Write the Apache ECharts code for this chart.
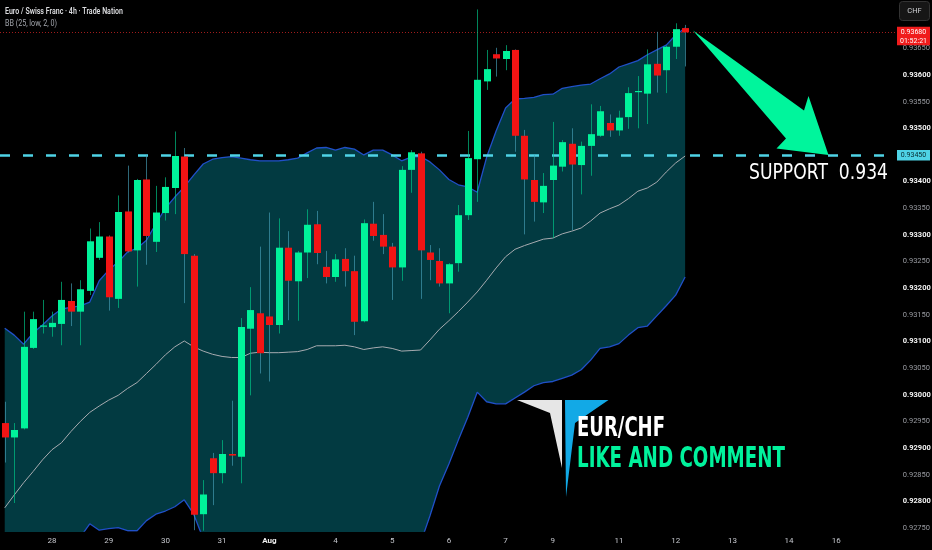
<!DOCTYPE html>
<html>
<head>
<meta charset="utf-8">
<script src="https://cdn.jsdelivr.net/npm/echarts@6/dist/echarts.min.js"></script>
<style>
html,body{margin:0;padding:0;background:#000;}
#c{width:932px;height:550px;}
</style>
</head>
<body>
<div id="c"></div>
<script>
// ---------- DATA ----------
const slotCount = 95; // 4h slots on the time axis (incl. future blank space)
const tickIndex = [5, 11, 17, 23, 28, 35, 41, 47, 53, 58, 65, 71, 77, 83, 88];
const tickText  = ['28','29','30','31','Aug','4','5','6','7','9','11','12','13','14','16'];
const yTickValues = [0.9365,0.9360,0.9355,0.9350,0.9340,0.9335,0.9330,0.9325,0.9320,0.9315,
                     0.9310,0.9305,0.9300,0.9295,0.9290,0.9285,0.9280,0.9275];

const opens = [0.92947,0.92920,0.92937,0.93088,0.93128,0.93127,0.93133,0.93176,0.93156,0.93195,
0.93257,0.93297,0.93180,0.93344,0.93271,0.93404,0.93287,0.93341,0.93388,0.93447,
0.93261,0.92776,0.92881,0.92853,0.92889,0.92884,0.93124,0.93153,0.93147,0.93131,
0.93276,0.93213,0.93267,0.93320,0.93240,0.93221,0.93255,0.93232,0.93138,0.93321,
0.93300,0.93278,0.93239,0.93422,0.93453,0.93267,0.93251,0.93209,0.93247,0.93337,
0.93442,0.93588,0.93639,0.93630,0.93647,0.93486,0.93403,0.93361,0.93403,0.93428,
0.93471,0.93431,0.93467,0.93486,0.93510,0.93496,0.93521,0.93568,0.93565,0.93621,
0.93609,0.93653,0.93688];
const closes = [0.92920,0.92934,0.93090,0.93142,0.93130,0.93135,0.93178,0.93156,0.93198,0.93288,
0.93297,0.93183,0.93343,0.93269,0.93403,0.93298,0.93342,0.93390,0.93448,0.93264,
0.92775,0.92813,0.92853,0.92889,0.92886,0.93127,0.93159,0.93078,0.93131,0.93276,
0.93214,0.93267,0.93319,0.93266,0.93221,0.93254,0.93232,0.93137,0.93322,0.93298,
0.93278,0.93239,0.93422,0.93455,0.93271,0.93253,0.93209,0.93245,0.93337,0.93444,
0.93591,0.93611,0.93631,0.93645,0.93486,0.93404,0.93362,0.93392,0.93430,0.93474,
0.93432,0.93467,0.93489,0.93532,0.93496,0.93520,0.93566,0.93570,0.93620,0.93599,
0.93653,0.93686,0.93680];
const lows = [0.92873,0.92797,0.92935,0.93086,0.93115,0.93109,0.93093,0.93129,0.93093,0.93187,
0.93253,0.93158,0.93163,0.93267,0.93203,0.93244,0.93268,0.93327,0.93339,0.93172,
0.92746,0.92745,0.92793,0.92834,0.92867,0.92834,0.92999,0.93040,0.93025,0.93115,
0.93140,0.93139,0.93219,0.93245,0.93209,0.93212,0.93203,0.93112,0.93136,0.93289,
0.93264,0.93178,0.93214,0.93379,0.93180,0.93215,0.93203,0.93153,0.93231,0.93328,
0.93362,0.93572,0.93597,0.93609,0.93456,0.93301,0.93325,0.93341,0.93294,0.93419,
0.93309,0.93376,0.93411,0.93484,0.93484,0.93486,0.93499,0.93500,0.93508,0.93567,
0.93566,0.93630,0.93616];
const highs = [0.92987,0.92947,0.93156,0.93156,0.93178,0.93156,0.93212,0.93209,0.93215,0.93312,
0.93324,0.93299,0.93374,0.93430,0.93405,0.93450,0.93392,0.93408,0.93494,0.93463,
0.93264,0.92840,0.92891,0.92915,0.92989,0.93144,0.93202,0.93278,0.93342,0.93331,
0.93307,0.93270,0.93348,0.93345,0.93270,0.93264,0.93275,0.93261,0.93329,0.93362,
0.93339,0.93285,0.93429,0.93459,0.93456,0.93281,0.93275,0.93247,0.93356,0.93495,
0.93723,0.93647,0.93651,0.93656,0.93648,0.93497,0.93450,0.93416,0.93512,0.93478,
0.93500,0.93475,0.93545,0.93542,0.93526,0.93533,0.93577,0.93598,0.93648,0.93681,
0.93655,0.93697,0.93694];

const bbUpper = [0.93125,0.93112,0.93095,0.93116,0.93131,0.93148,0.93161,0.93164,0.93167,0.93174,
0.93214,0.93234,0.93249,0.93268,0.93275,0.93290,0.93321,0.93350,0.93371,0.93390,
0.93412,0.93433,0.93442,0.93445,0.93447,0.93444,0.93441,0.93439,0.93439,0.93439,
0.93441,0.93444,0.93454,0.93463,0.93464,0.93459,0.93464,0.93461,0.93450,0.93459,
0.93459,0.93450,0.93439,0.93446,0.93447,0.93437,0.93422,0.93404,0.93394,0.93390,
0.93380,0.93446,0.93495,0.93538,0.93555,0.93556,0.93558,0.93563,0.93564,0.93575,
0.93578,0.93581,0.93583,0.93593,0.93602,0.93615,0.93621,0.93627,0.93638,0.93647,
0.93656,0.93675,0.93688];
const bbMiddle = [0.92788,0.92812,0.92835,0.92856,0.92878,0.92897,0.92910,0.92931,0.92950,0.92967,
0.92979,0.92990,0.92999,0.93012,0.93023,0.93040,0.93057,0.93075,0.93090,0.93101,
0.93090,0.93082,0.93076,0.93072,0.93070,0.93070,0.93078,0.93080,0.93079,0.93079,
0.93080,0.93081,0.93085,0.93092,0.93092,0.93092,0.93093,0.93090,0.93085,0.93088,
0.93090,0.93087,0.93082,0.93083,0.93084,0.93103,0.93123,0.93139,0.93156,0.93174,
0.93193,0.93215,0.93238,0.93259,0.93273,0.93280,0.93286,0.93292,0.93294,0.93302,
0.93307,0.93313,0.93326,0.93341,0.93349,0.93356,0.93368,0.93382,0.93388,0.93399,
0.93418,0.93435,0.93448];
const bbLower = [0.92450,0.92512,0.92574,0.92596,0.92625,0.92645,0.92658,0.92698,0.92733,0.92758,
0.92746,0.92749,0.92751,0.92745,0.92745,0.92764,0.92776,0.92782,0.92790,0.92803,
0.92776,0.92730,0.92707,0.92698,0.92694,0.92696,0.92715,0.92720,0.92720,0.92718,
0.92718,0.92718,0.92716,0.92720,0.92719,0.92726,0.92722,0.92720,0.92720,0.92718,
0.92722,0.92724,0.92726,0.92720,0.92722,0.92773,0.92829,0.92870,0.92915,0.92958,
0.93005,0.92987,0.92983,0.92983,0.92994,0.93005,0.93017,0.93023,0.93025,0.93031,
0.93037,0.93047,0.93065,0.93087,0.93090,0.93096,0.93112,0.93126,0.93129,0.93148,
0.93167,0.93187,0.93221];

const supportLevel = 0.9345;
const lastPrice = 0.9368;
const countdown = '01:52:21';
const titleText = 'Euro / Swiss Franc · 4h · Trade Nation';
const indicatorText = 'BB (25, low, 2, 0)';
const currencyText = 'CHF';
const supportText = 'SUPPORT  0.934';
const brandText = 'EUR/CHF';
const callText = 'LIKE AND COMMENT';

// ---------- STYLE ----------
const GREEN = '#00f29a', RED = '#f21414';
const WICK_UP = 'rgba(0,205,140,0.65)', WICK_DN = 'rgba(70,160,185,0.65)';
const BAND_FILL = '#023a41', BAND_LINE = '#2050c8', MID_LINE = '#a7abb0';
const AXIS_FONT = "Roboto, sans-serif";

const chart = echarts.init(document.getElementById('c'), null, {renderer: 'canvas'});
const slots = Array.from({length: slotCount}, (_, i) => String(i));
const candles = opens.map((o, i) => [i, o, closes[i], lows[i], highs[i]]);
const bandDiff = bbUpper.map((u, i) => u - bbLower[i]);

const measureCtx = document.createElement('canvas').getContext('2d');
function fitScale(text, font, targetW) {
  measureCtx.font = font;
  return targetW / measureCtx.measureText(text).width;
}

const option = {
  backgroundColor: '#000000',
  animation: false,
  grid: {left: 0, top: 0, width: slotCount * 9.45, height: 531, containLabel: false, outerBoundsMode: 'none'},
  xAxis: {
    type: 'category', data: slots, boundaryGap: true,
    axisLine: {show: false}, axisTick: {show: false}, splitLine: {show: false},
    axisLabel: {
      interval: (idx) => tickIndex.indexOf(idx) >= 0,
      margin: 6,
      formatter: (v) => {
        const k = tickIndex.indexOf(Number(v));
        if (k < 0) return '';
        const t = tickText[k];
        return /^[A-Za-z]/.test(t) ? '{m|' + t + '}' : '{d|' + t + '}';
      },
      rich: {
        d: {color: '#c4c6cc', fontSize: 8, fontFamily: AXIS_FONT},
        m: {color: '#f0f0f0', fontSize: 8, fontWeight: 'bold', fontFamily: AXIS_FONT}
      }
    }
  },
  yAxis: {
    type: 'value', position: 'right', min: 0.927445, max: 0.937407, scale: true,
    axisLine: {show: false}, axisTick: {show: false}, splitLine: {show: false},
    axisLabel: {
      customValues: yTickValues,
      margin: 5,
      align: 'left',
      formatter: (v) => {
        const s = v.toFixed(5);
        return (Math.round(v * 100000) % 100 === 0) ? '{a|' + s + '}' : '{b|' + s + '}';
      },
      rich: {
        a: {color: '#f2f2f2', fontSize: 7.5, fontWeight: 'bold', fontFamily: AXIS_FONT},
        b: {color: '#9a9ca2', fontSize: 7.5, fontFamily: AXIS_FONT}
      }
    }
  },
  series: [
    {type: 'line', name: 'bbBase', data: bbLower, stack: 'bb', symbol: 'none',
     lineStyle: {opacity: 0}, silent: true, z: 1},
    {type: 'line', name: 'bbFill', data: bandDiff, stack: 'bb', symbol: 'none',
     lineStyle: {opacity: 0}, areaStyle: {color: BAND_FILL, opacity: 1}, silent: true, z: 1},
    {type: 'line', name: 'upper', data: bbUpper, symbol: 'none',
     lineStyle: {color: BAND_LINE, width: 1.3}, silent: true, z: 2},
    {type: 'line', name: 'lower', data: bbLower, symbol: 'none',
     lineStyle: {color: BAND_LINE, width: 1.3}, silent: true, z: 2},
    {type: 'line', name: 'basis', data: bbMiddle, symbol: 'none',
     lineStyle: {color: MID_LINE, width: 1}, silent: true, z: 2},
    {
      type: 'custom', name: 'EURCHF', data: candles, clip: true, z: 5,
      encode: {x: 0, y: [1, 2, 3, 4]},
      renderItem: (params, api) => {
        const i = api.value(0), o = api.value(1), c = api.value(2), l = api.value(3), h = api.value(4);
        const pO = api.coord([i, o]), pC = api.coord([i, c]);
        const pL = api.coord([i, l]), pH = api.coord([i, h]);
        const up = c >= o;
        const cx = Math.round(pO[0]);
        const top = Math.min(pO[1], pC[1]), bot = Math.max(pO[1], pC[1]);
        return {type: 'group', children: [
          {type: 'line', shape: {x1: cx + 0.5, y1: pH[1], x2: cx + 0.5, y2: pL[1]},
           style: {stroke: up ? WICK_UP : WICK_DN, lineWidth: 1}},
          {type: 'rect', shape: {x: cx - 3, y: top, width: 7, height: Math.max(bot - top, 1.2)},
           style: {fill: up ? GREEN : RED}}
        ]};
      }
    },
    {
      type: 'line', name: 'levels', data: [], symbol: 'none', z: 8,
      markLine: {
        silent: true, symbol: 'none', animation: false, precision: 6,
        label: {show: false},
        data: [
          {yAxis: supportLevel, lineStyle: {color: '#4fd3e6', width: 2.6, type: [10, 13]}},
          {yAxis: lastPrice, lineStyle: {color: '#a01c1c', width: 1, type: [1, 2]}}
        ]
      }
    }
  ]
};
chart.setOption(option);

// ---------- ANNOTATIONS ----------
const ySup = chart.convertToPixel({yAxisIndex: 0}, supportLevel);
const yLast = chart.convertToPixel({yAxisIndex: 0}, lastPrice);
const fTitle = "600 9px Roboto", fInd = "9px Roboto";
const fSup = "22px 'DejaVu Sans'", fBrand = "bold 27px 'DejaVu Sans'", fCall = "bold 28px 'DejaVu Sans'";

chart.setOption({graphic: [
  {type: 'text', x: 5, y: 12, scaleX: fitScale(titleText, fTitle, 118), z: 50,
   style: {text: titleText, font: fTitle, fill: '#dcdde0', verticalAlign: 'middle'}},
  {type: 'text', x: 5, y: 24, scaleX: fitScale(indicatorText, fInd, 52), z: 50,
   style: {text: indicatorText, font: fInd, fill: '#a3a6ad', verticalAlign: 'middle'}},
  // currency box
  {type: 'rect', shape: {x: 899.5, y: 1.5, width: 30, height: 19, r: 3}, z: 50,
   style: {fill: '#161616', stroke: '#333333', lineWidth: 1}},
  {type: 'text', x: 914.5, y: 11, z: 51,
   style: {text: currencyText, font: "7.5px Roboto", fill: '#cfd0d3', align: 'center', verticalAlign: 'middle'}},
  // last price box
  {type: 'rect', shape: {x: 897, y: yLast - 5.5, width: 33, height: 18.5}, z: 50,
   style: {fill: '#f01c1c'}},
  {type: 'text', x: 913.5, y: yLast, z: 51,
   style: {text: lastPrice.toFixed(5), font: "7px Roboto", fill: '#ffffff', align: 'center', verticalAlign: 'middle'}},
  {type: 'text', x: 913.5, y: yLast + 8.5, z: 51,
   style: {text: countdown, font: "7px Roboto", fill: '#ffffff', align: 'center', verticalAlign: 'middle'}},
  // support box
  {type: 'rect', shape: {x: 897, y: ySup - 5, width: 33, height: 10.5}, z: 50,
   style: {fill: '#4fd3e6'}},
  {type: 'text', x: 913.5, y: ySup + 0.3, z: 51,
   style: {text: supportLevel.toFixed(5), font: "7px Roboto", fill: '#06282c', align: 'center', verticalAlign: 'middle'}},
  // arrow
  {type: 'polygon', z: 60,
   shape: {points: [[693, 30.5], [804, 110.5], [808.5, 96], [828.5, 155], [776.5, 148.5], [786, 138.5]]},
   style: {fill: '#00f59c'}},
  // support text
  {type: 'text', x: 749, y: 173.5, scaleX: fitScale(supportText, fSup, 139), z: 60,
   style: {text: supportText, font: fSup, fill: '#ffffff', verticalAlign: 'middle'}},
  // logo
  {type: 'polygon', z: 60, shape: {points: [[517, 400], [562, 400], [562, 468], [550, 413]]},
   style: {fill: '#e6e6e6'}},
  {type: 'polygon', z: 60, shape: {points: [[565, 400], [608.5, 400], [575, 423], [566, 497]]},
   style: {fill: '#12a9e6'}},
  {type: 'text', x: 577, y: 429, scaleX: fitScale(brandText, fBrand, 88), z: 60,
   style: {text: brandText, font: fBrand, fill: '#ffffff', verticalAlign: 'middle'}},
  {type: 'text', x: 577, y: 460, scaleX: fitScale(callText, fCall, 208), z: 60,
   style: {text: callText, font: fCall, fill: '#00f29c', verticalAlign: 'middle'}}
]});
</script>
</body>
</html>
